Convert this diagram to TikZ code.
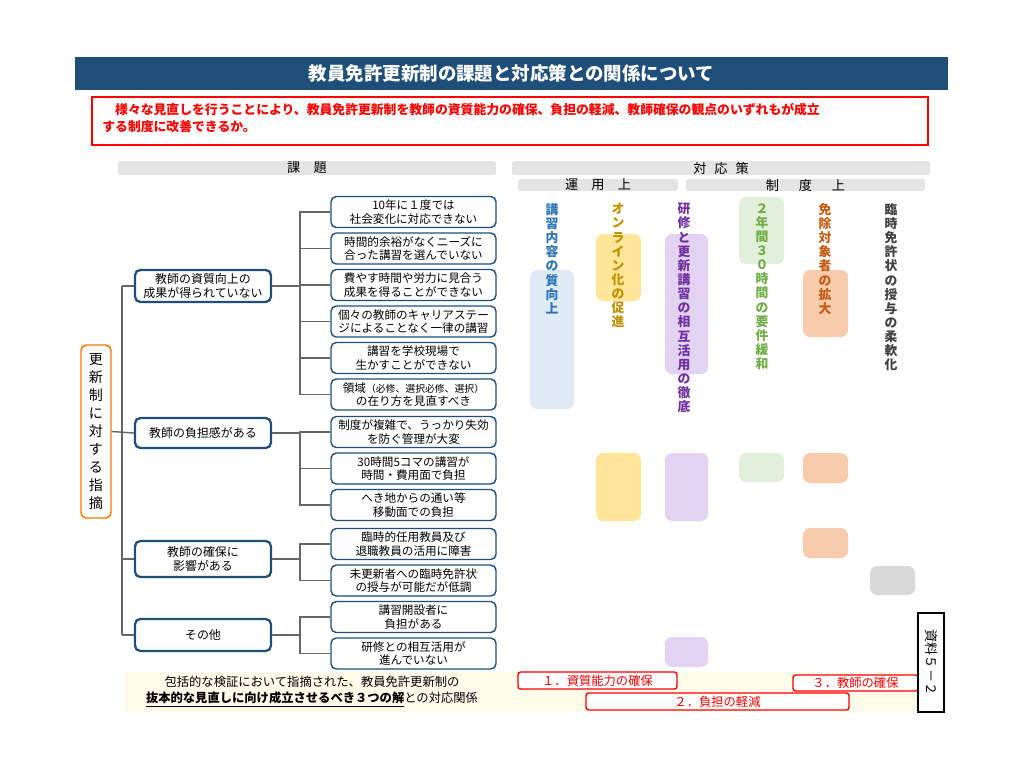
\documentclass[tikz,border=0pt]{standalone}
\usepackage{fontspec}
\setmainfont{Noto Sans CJK JP}
\definecolor{navy}{HTML}{1F4E79}
\definecolor{hdr}{HTML}{E4E4E4}
\definecolor{cb}{HTML}{2E75B6}\definecolor{cbf}{HTML}{DEEAF6}
\definecolor{cy}{HTML}{BF9000}\definecolor{cyf}{HTML}{FFE699}
\definecolor{cp}{HTML}{7030A0}\definecolor{cpf}{HTML}{E2D3F2}
\definecolor{cg}{HTML}{70AD47}\definecolor{cgf}{HTML}{E2EFDA}
\definecolor{co}{HTML}{C55A11}\definecolor{cof}{HTML}{F8CBAD}
\definecolor{ck}{HTML}{404040}\definecolor{ckf}{HTML}{D9D9D9}
\definecolor{beige}{HTML}{FEFBEA}
\begin{document}
\begin{tikzpicture}[x=0.02cm,y=-0.02cm,
 item/.style={draw=navy,thick,rounded corners=3pt,minimum width=3.3cm,minimum height=0.62cm,inner sep=0pt,align=center,font=\fontsize{6.6}{7.8}\selectfont},
 grp/.style={draw=navy,line width=1.3pt,rounded corners=3pt,minimum width=2.72cm,inner sep=0pt,align=center,font=\fontsize{6.8}{8}\selectfont},
 bar/.style={fill=hdr,rounded corners=1.5pt,inner sep=0pt,font=\fontsize{7.5}{8}\selectfont},
 vtxt/.style={anchor=north,align=center,inner sep=0pt,font=\bfseries\fontsize{7.3}{8.05}\selectfont},
 conn/.style={draw=gray!80!black,thick},
 redb/.style={draw=red,thick,rounded corners=1.5pt,text=red,inner sep=0pt,font=\fontsize{7}{8}\selectfont}]
\useasboundingbox (0,0) rectangle (1024,768);
% title
\node[fill=navy,text=white,minimum width=17.46cm,minimum height=0.66cm,inner sep=0pt,font=\bfseries\fontsize{10.5}{12}\selectfont] (title) at (511.5,73.5) {教員免許更新制の課題と対応策との関係について};
\node[draw=red,thick,minimum width=16.72cm,minimum height=0.96cm,inner sep=0pt] (rb) at (510,121) {};
\node[anchor=north west,text=red,align=left,inner sep=0pt,font=\bfseries\fontsize{7.3}{9.6}\selectfont] (rt) at (102,103) {\hspace{1em}様々な見直しを行うことにより、教員免許更新制を教師の資質能力の確保、負担の軽減、教師確保の観点のいずれもが成立\\する制度に改善できるか。};
% headers
\node[bar,minimum width=7.56cm,minimum height=0.28cm] (h1) at (307,168) {課\hspace{1em}題};
\node[bar,minimum width=8.36cm,minimum height=0.28cm] (h2) at (721,168) {対\hspace{0.6em}応\hspace{0.6em}策};
\node[bar,minimum width=3.2cm,minimum height=0.22cm] (h3) at (598,185) {運\hspace{1em}用\hspace{1em}上};
\node[bar,minimum width=4.78cm,minimum height=0.22cm] (h4) at (805.5,185) {制\hspace{1.5em}度\hspace{1.5em}上};
% left root
\node[draw=orange!90!red,thick,rounded corners=3pt,minimum width=0.6cm,minimum height=3.46cm,inner sep=0pt,align=center,font=\fontsize{8}{10.2}\selectfont] (root) at (96,431.5) {更\\新\\制\\に\\対\\す\\る\\指\\摘};
% groups
\node[grp,minimum height=0.64cm] (g1) at (203,286) {教師の資質向上の\\成果が得られていない};
\node[grp,minimum height=0.6cm] (g2) at (203,433) {教師の負担感がある};
\node[grp,minimum height=0.72cm] (g3) at (203,559) {教師の確保に\\影響がある};
\node[grp,minimum height=0.64cm] (g4) at (203,635) {その他};
% items
\node[item] (i1) at (413.5,212) {10年に１度では\\社会変化に対応できない};
\node[item] (i2) at (413.5,248.5) {時間的余裕がなくニーズに\\合った講習を選んでいない};
\node[item] (i3) at (413.5,285) {費やす時間や労力に見合う\\成果を得ることができない};
\node[item] (i4) at (413.5,321.5) {個々の教師のキャリアステー\\ジによることなく一律の講習};
\node[item] (i5) at (413.5,358) {講習を学校現場で\\生かすことができない};
\node[item] (i6) at (413.5,394.5) {領域{\fontsize{5.6}{7}\selectfont（必修、選択必修、選択）}\\の在り方を見直すべき};
\node[item] (i7) at (413.5,432) {制度が複雑で、うっかり失効\\を防ぐ管理が大変};
\node[item] (i8) at (413.5,468.5) {30時間5コマの講習が\\時間・費用面で負担};
\node[item] (i9) at (413.5,505) {へき地からの通い等\\移動面での負担};
\node[item] (i10) at (413.5,544) {臨時的任用教員及び\\退職教員の活用に障害};
\node[item] (i11) at (413.5,580.5) {未更新者への臨時免許状\\の授与が可能だが低調};
\node[item] (i12) at (413.5,617) {講習開設者に\\負担がある};
\node[item] (i13) at (413.5,653.5) {研修との相互活用が\\進んでいない};
% connectors
\coordinate (t1) at (122,286); \coordinate (t4) at (122,635);
\draw[conn] (t1) -- (t4);
\draw[conn] (g1.west) -- (t1);
\draw[conn] (root.east) -- (g2.west);
\draw[conn] (g3.west) -- (122,559);
\draw[conn] (g4.west) -- (t4);
\foreach \g/\y/\a/\b in {g1/286/212/394.5,g2/433/432/505,g3/559/544/580.5,g4/635/617/653.5}{
  \draw[conn] (\g.east) -- (300,\y);
  \draw[conn] (300,\a) -- (300,\b);}
\foreach \i in {i1,i2,i3,i4,i5,i6,i7,i8,i9,i10,i11,i12,i13}{
  \draw[conn] (\i.west) -- ++(-31,0);}
% column rects
\tikzset{rr/.style={rounded corners=4pt}}
\fill[cbf,rr] (530,270) rectangle (574,409);
\fill[cyf,rr] (596,234) rectangle (641,301);
\fill[cpf,rr] (665,234) rectangle (708,374);
\fill[cgf,rr] (739,197) rectangle (784,264);
\fill[cof,rr] (803,270) rectangle (848,337);
\fill[cyf,rr] (596,453) rectangle (641,521);
\fill[cpf,rr] (665,453) rectangle (708,521);
\fill[cgf,rr] (739,453) rectangle (784,482);
\fill[cof,rr] (803,453) rectangle (848,483);
\fill[cof,rr] (803,528) rectangle (848,558);
\fill[ckf,rr] (870,566) rectangle (915,595);
\fill[cpf,rr] (665,637) rectangle (708,667);
% column texts
\node[vtxt,text=cb] (c1) at (552,203) {講\\習\\内\\容\\の\\質\\向\\上};
\node[vtxt,text=cy] (c2) at (618,203) {オ\\ン\\ラ\\イ\\ン\\化\\の\\促\\進};
\node[vtxt,text=cp] (c3) at (684,203) {研\\修\\と\\更\\新\\講\\習\\の\\相\\互\\活\\用\\の\\徹\\底};
\node[vtxt,text=cg] (c4) at (762,203) {２\\年\\間\\３\\０\\時\\間\\の\\要\\件\\緩\\和};
\node[vtxt,text=co] (c5) at (825,203) {免\\除\\対\\象\\者\\の\\拡\\大};
\node[vtxt,text=ck] (c6) at (891,203) {臨\\時\\免\\許\\状\\の\\授\\与\\の\\柔\\軟\\化};
% bottom
\fill[beige] (125,672) rectangle (918,712);
\node[align=center,inner sep=0pt,font=\fontsize{7}{9}\selectfont] (bt) at (312,692) {包括的な検証において指摘された、教員免許更新制の\\\underline{\textbf{抜本的な見直しに向け成立させるべき３つの解}}との対応関係};
\node[redb,fill=white,minimum width=3.18cm,minimum height=0.34cm] (r1) at (597.5,680.5) {１．資質能力の確保};
\node[redb,fill=white,minimum width=5.26cm,minimum height=0.34cm] (r2) at (717.5,701.5) {２．負担の軽減};
\node[redb,fill=white,minimum width=2.5cm,minimum height=0.32cm] (r3) at (855.5,683) {３．教師の確保};
\node[draw,thick,fill=white,minimum width=0.52cm,minimum height=1.98cm,inner sep=0pt] (doc) at (931,662.5) {};
\node[rotate=-90,inner sep=0pt,font=\fontsize{7.5}{8}\selectfont] at (doc.center) {資料５－２};
\end{tikzpicture}
\end{document}
